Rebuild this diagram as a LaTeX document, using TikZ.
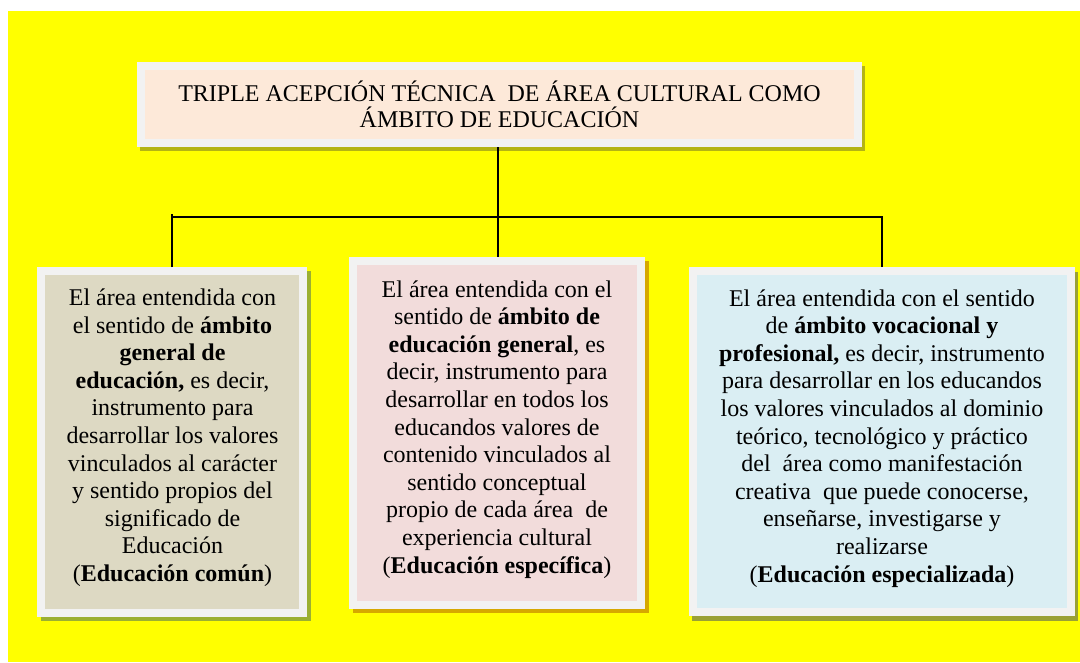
\documentclass[tikz,border=0pt]{standalone}
\usepackage{fontspec}
\setmainfont{Liberation Serif}
\definecolor{bgyellow}{HTML}{FFFF00}
\definecolor{boxframe}{HTML}{F2F2F2}
\definecolor{peach}{HTML}{FDE9D9}
\definecolor{tan}{HTML}{DDD9C3}
\definecolor{rose}{HTML}{F2DCDB}
\definecolor{skyblue}{HTML}{DAEEF3}
\definecolor{shadetop}{HTML}{B4B414}
\definecolor{shadeleft}{HTML}{9BAF32}
\definecolor{shademid}{HTML}{D6A800}
\definecolor{shaderight}{HTML}{9AA035}
\pgfdeclarelayer{bg}
\pgfdeclarelayer{shade}
\pgfsetlayers{bg,shade,main}
\begin{document}
\begin{tikzpicture}[x=1pt,y=-1pt,
  box/.style={draw=boxframe, line width=8pt, inner sep=0pt, rectangle},
  txt/.style={align=center, font=\rmfamily\fontsize{24}{27.6}\selectfont, inner sep=0pt},
  link/.style={line width=1.5pt, black}]
\useasboundingbox (0,0) rectangle (1080,662);
\begin{pgfonlayer}{bg}
\fill[bgyellow] (8,11) rectangle (1080,662);
\end{pgfonlayer}
% boxes
\node[box, fill=peach, minimum width=717pt, minimum height=77pt] (title) at (499.5,104.5) {};
\node[box, fill=tan, minimum width=262pt, minimum height=342pt] (left) at (172,442) {};
\node[box, fill=rose, minimum width=288pt, minimum height=344pt] (mid) at (497,433) {};
\node[box, fill=skyblue, minimum width=378pt, minimum height=341pt] (right) at (882,441.5) {};
% shadows
\begin{pgfonlayer}{shade}
\fill[shadetop] ([shift={(3,4)}]title.north west) rectangle ([shift={(3,4)}]title.south east);
\fill[shadeleft] ([shift={(4,4)}]left.north west) rectangle ([shift={(4,4)}]left.south east);
\fill[shademid] ([shift={(4,4)}]mid.north west) rectangle ([shift={(4,4)}]mid.south east);
\fill[shaderight] ([shift={(3,5)}]right.north west) rectangle ([shift={(3,5)}]right.south east);
\end{pgfonlayer}
% texts
\node[txt, font=\rmfamily\fontsize{24}{26.6}\selectfont] (titletext) at (499.5,104.4)
  {TRIPLE ACEPCIÓN TÉCNICA\ \ DE ÁREA CULTURAL COMO\\ÁMBITO DE EDUCACIÓN};
\node[txt] (lefttext) at (172.5,437.8)
  {El área entendida con\\el sentido de \textbf{ámbito}\\\textbf{general de}\\\textbf{educación,} es decir,\\instrumento para\\desarrollar los valores\\vinculados al carácter\\y sentido propios del\\significado de\\Educación\\(\textbf{Educación común})};
\node[txt] (midtext) at (497,429.3)
  {El área entendida con el\\sentido de \textbf{ámbito de}\\\textbf{educación general}, es\\decir, instrumento para\\desarrollar en todos los\\educandos valores de\\contenido vinculados al\\sentido conceptual\\propio de cada área\ \ de\\experiencia cultural\\(\textbf{Educación específica})};
\node[txt] (righttext) at (882,438.3)
  {El área entendida con el sentido\\de \textbf{ámbito vocacional y}\\\textbf{profesional,} es decir, instrumento\\para desarrollar en los educandos\\los valores vinculados al dominio\\teórico, tecnológico y práctico\\del\ \ área como manifestación\\creativa\ \ que puede conocerse,\\enseñarse, investigarse y\\realizarse\\(\textbf{Educación especializada})};
% connectors
\coordinate (hub) at (498,217);
\draw[link] (title.south -| hub) -- (hub |- mid.north);
\draw[link] (left.north) -- ++(0,-53);
\draw[link] (left.north |- hub) -- (hub) -| (right.north);
\end{tikzpicture}
\end{document}
